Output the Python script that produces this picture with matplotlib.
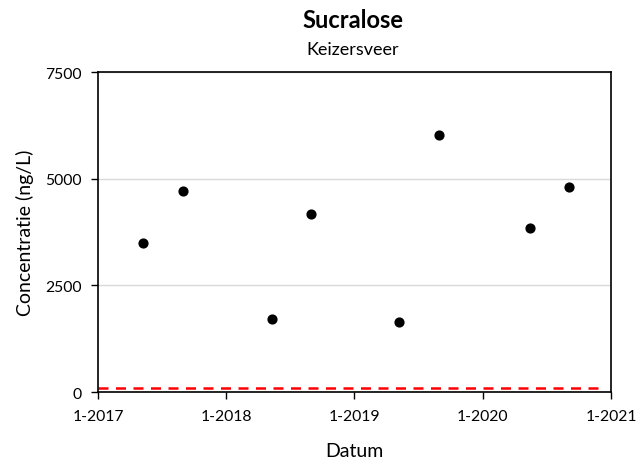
import numpy as np
import pandas as pd
import matplotlib
matplotlib.use("Agg")
from matplotlib import pyplot as plt

plt.rcParams['font.family'] = ['Lato', 'DejaVu Sans']

# sample dates and concentrations (ng/L)
dates = pd.to_datetime(["2017-05-10", "2017-08-30", "2018-05-12", "2018-08-30",
                        "2019-05-09", "2019-08-29", "2020-05-15", "2020-09-03"])
conc = [3505, 4724, 1710, 4178, 1640, 6036, 3850, 4810]
limit = 100
yticks = [0, 2500, 5000, 7500]
xticks = pd.to_datetime(["2017-01-01", "2018-01-01", "2019-01-01", "2020-01-01", "2021-01-01"])
xlabels = ["1-2017", "1-2018", "1-2019", "1-2020", "1-2021"]

fig = plt.figure(figsize=(6.36, 4.64), dpi=100)
ax = fig.add_axes([0.154, 0.153, 0.807, 0.689])

ax.scatter(dates, conc, s=40, color='black', zorder=3)
ax.plot([xticks[0], xticks[-1] - pd.Timedelta(days=20)], [limit, limit],
        color='red', linestyle=(0, (4, 3)), linewidth=1.8, zorder=2)

ax.set_xlim(xticks[0], xticks[-1])
ax.set_ylim(0, 7500)
ax.set_xticks(xticks)
ax.set_xticklabels(xlabels)
ax.set_yticks(yticks)
ax.set_yticklabels([str(v) for v in yticks])
ax.yaxis.grid(True, color='#d9d9d9', linewidth=1)
ax.set_axisbelow(True)
for s in ax.spines.values():
    s.set_color('black')
    s.set_linewidth(1.2)
ax.tick_params(direction='out', length=5, width=1, labelsize=11.3, pad=7)

ax.set_xlabel("Datum", fontsize=14, labelpad=14)
ax.set_ylabel("Concentratie (ng/L)", fontsize=14, labelpad=8)
fig.text(0.555, 0.955, "Sucralose", ha='center', va='center', fontsize=17, fontweight='bold')
fig.text(0.555, 0.893, "Keizersveer", ha='center', va='center', fontsize=13)

fig.savefig("out.png", dpi=100)
